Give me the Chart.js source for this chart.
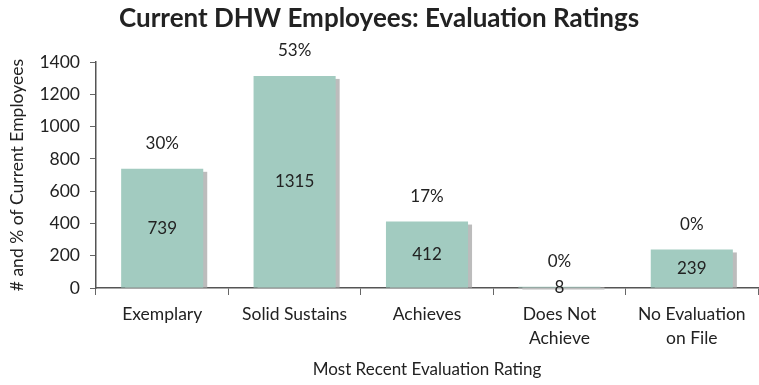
<!DOCTYPE html>
<html>
<head>
<meta charset="utf-8">
<script src="https://cdn.jsdelivr.net/npm/chart.js@4/dist/chart.umd.min.js"></script>
<style>
  html, body { margin: 0; padding: 0; background: #ffffff; }
  #wrap { width: 759px; height: 385px; }
</style>
</head>
<body>
<div id="wrap"><canvas id="chart" width="759" height="385"></canvas></div>
<script>
// Evaluation ratings of current employees
const categories = [['Exemplary'], ['Solid Sustains'], ['Achieves'], ['Does Not', 'Achieve'], ['No Evaluation', 'on File']];
const employeeCounts = [739, 1315, 412, 8, 239];
const percentLabels = ['30%', '53%', '17%', '0%', '0%'];
const yTicks = [0, 200, 400, 600, 800, 1000, 1200, 1400];

const FONT = 'Lato, "Open Sans", sans-serif';
const BAR = '#a2cbc0';
const SHADOW = '#bcbcbc';
const INK = '#222222';

// Soft drop shadow behind each bar, offset to the lower right
const barShadow = {
  id: 'barShadow',
  beforeDatasetsDraw(chart) {
    const ctx = chart.ctx;
    const meta = chart.getDatasetMeta(0);
    ctx.save();
    ctx.fillStyle = SHADOW;
    meta.data.forEach(bar => {
      const w = bar.width;
      const left = bar.x - w / 2;
      const top = Math.min(bar.y, bar.base - 1);
      ctx.fillRect(left + 4, top + 3, w, bar.base - top - 3);
    });
    ctx.restore();
  }
};

// Count inside each bar, share above it
const barLabels = {
  id: 'barLabels',
  afterDatasetsDraw(chart) {
    const ctx = chart.ctx;
    const meta = chart.getDatasetMeta(0);
    ctx.save();
    ctx.textAlign = 'center';
    ctx.textBaseline = 'middle';
    ctx.fillStyle = INK;
    meta.data.forEach((bar, i) => {
      const mid = (bar.y + bar.base) / 2;
      ctx.font = '17px ' + FONT;
      ctx.fillText(String(employeeCounts[i]), bar.x, mid);
      ctx.fillText(percentLabels[i], bar.x, bar.y - 25);
    });
    ctx.restore();
  }
};

new Chart(document.getElementById('chart'), {
  type: 'bar',
  data: {
    labels: categories,
    datasets: [{
      data: employeeCounts,
      backgroundColor: BAR,
      borderWidth: 0,
      barPercentage: 0.62,
      categoryPercentage: 1.0
    }]
  },
  options: {
    responsive: false,
    animation: false,
    layout: { padding: { left: 0, right: 1, top: 0, bottom: 0 } },
    plugins: {
      legend: { display: false },
      tooltip: { enabled: false },
      title: {
        display: true,
        text: 'Current DHW Employees: Evaluation Ratings',
        color: INK,
        font: { family: FONT, size: 26, weight: 'bold' },
        padding: { top: 3, bottom: 28 }
      }
    },
    scales: {
      x: {
        offset: true,
        grid: {
          offset: true,
          drawOnChartArea: false,
          drawTicks: true,
          tickLength: 7,
          color: '#666666'
        },
        border: { display: true, color: '#555555', width: 1.5 },
        ticks: {
          color: INK,
          font: { family: FONT, size: 17.5, lineHeight: 1.35 },
          padding: 8,
          maxRotation: 0,
          autoSkip: false
        },
        title: {
          display: true,
          text: 'Most Recent Evaluation Rating',
          color: INK,
          font: { family: FONT, size: 17 },
          padding: { top: 4, bottom: 5 }
        },
        afterFit(scale) { scale.height = 97; }
      },
      y: {
        min: 0,
        max: 1400,
        afterBuildTicks(scale) { scale.ticks = yTicks.map(v => ({ value: v })); },
        grid: {
          drawOnChartArea: false,
          drawTicks: true,
          tickLength: 6,
          color: '#666666'
        },
        border: { display: true, color: '#555555', width: 1.5 },
        ticks: {
          color: INK,
          font: { family: FONT, size: 17.5 },
          padding: 10,
          callback: v => String(v)
        },
        title: {
          display: true,
          text: '# and % of Current Employees',
          color: INK,
          font: { family: FONT, size: 17.5 },
          padding: { top: 7, bottom: 4 }
        },
        afterFit(scale) { scale.width = 96; }
      }
    }
  },
  plugins: [barShadow, barLabels]
});
</script>
</body>
</html>
